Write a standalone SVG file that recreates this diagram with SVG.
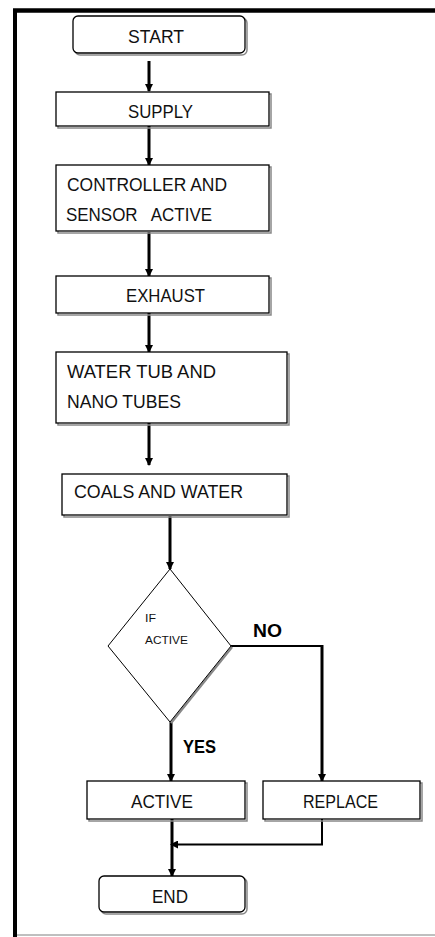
<svg xmlns="http://www.w3.org/2000/svg" width="435" height="937" viewBox="0 0 435 937">
<defs>
<marker id="ah" markerWidth="8" markerHeight="8" refX="7" refY="4" orient="auto" markerUnits="userSpaceOnUse">
<path d="M0,0 L8,4 L0,8 Z" fill="#000"/>
</marker>
</defs>
<style>
.box{fill:#fff;stroke:#000;stroke-width:1.3}
.sh{fill:none;stroke:#888;stroke-width:1.5}
.t{font-family:"Liberation Sans",Arial,sans-serif;font-size:17.5px;fill:#111}
.s{font-family:"Liberation Sans",Arial,sans-serif;font-size:11px;fill:#111}
.b{font-family:"Liberation Sans",Arial,sans-serif;font-size:17.5px;font-weight:bold;fill:#000}
.c{fill:none;stroke:#000;stroke-width:3}
.c2{fill:none;stroke:#000;stroke-width:2}
</style>
<rect width="435" height="937" fill="#fff"/>
<g id="frame">
<line x1="13" y1="10.5" x2="435" y2="10.5" stroke="#000" stroke-width="4.4"/>
<line x1="15" y1="9" x2="15" y2="937" stroke="#000" stroke-width="4"/>
<line x1="17" y1="935" x2="435" y2="935" stroke="#aaa" stroke-width="1.5"/>
</g>
<g id="connectors">
<line class="c" x1="149" y1="61" x2="149" y2="91" marker-end="url(#ah)"/>
<line class="c" x1="149" y1="126" x2="149" y2="165" marker-end="url(#ah)"/>
<line class="c" x1="149" y1="232" x2="149" y2="276" marker-end="url(#ah)"/>
<line class="c" x1="149" y1="313" x2="149" y2="352" marker-end="url(#ah)"/>
<line class="c" x1="149" y1="423" x2="149" y2="465" marker-end="url(#ah)"/>
<line class="c" x1="170" y1="516" x2="170" y2="569" marker-end="url(#ah)"/>
<polyline class="c2" points="231,646 322,646 322,647"/>
<line class="c" x1="322" y1="645" x2="322" y2="781" marker-end="url(#ah)"/>
<line class="c" x1="171" y1="722" x2="171" y2="781" marker-end="url(#ah)"/>
<line class="c" x1="172" y1="819" x2="172" y2="876" marker-end="url(#ah)"/>
<polyline class="c2" points="322,819 322,844.5 171,844.5" marker-end="url(#ah)"/>
</g>
<g id="start">
<rect x="75" y="18" width="172" height="37" rx="5" class="sh"/>
<rect x="73" y="16" width="172" height="37" rx="5" class="box"/>
<text class="t" x="128" y="42.5" textLength="56" lengthAdjust="spacingAndGlyphs">START</text>
</g>
<g id="supply">
<rect x="58" y="94" width="213" height="34" class="sh"/>
<rect x="56" y="92" width="213" height="34" class="box"/>
<text class="t" x="128" y="118" textLength="65" lengthAdjust="spacingAndGlyphs">SUPPLY</text>
</g>
<g id="controller">
<rect x="58" y="167" width="213" height="66" class="sh"/>
<rect x="56" y="165" width="213" height="66" class="box"/>
<text class="t" x="67" y="190.5" textLength="160" lengthAdjust="spacingAndGlyphs">CONTROLLER AND</text>
<text class="t" x="66" y="221" textLength="146" lengthAdjust="spacingAndGlyphs" xml:space="preserve">SENSOR   ACTIVE</text>
</g>
<g id="exhaust">
<rect x="58" y="278" width="213" height="37" class="sh"/>
<rect x="56" y="276" width="213" height="37" class="box"/>
<text class="t" x="126" y="301.5" textLength="79" lengthAdjust="spacingAndGlyphs">EXHAUST</text>
</g>
<g id="watertub">
<rect x="58" y="354" width="231" height="71" class="sh"/>
<rect x="56" y="352" width="231" height="71" class="box"/>
<text class="t" x="67" y="377.5" textLength="149" lengthAdjust="spacingAndGlyphs">WATER TUB AND</text>
<text class="t" x="67" y="408" textLength="114" lengthAdjust="spacingAndGlyphs">NANO TUBES</text>
</g>
<g id="coals">
<rect x="64" y="476" width="225" height="41" class="sh"/>
<rect x="62" y="474" width="225" height="41" class="box"/>
<text class="t" x="74" y="498" textLength="169" lengthAdjust="spacingAndGlyphs">COALS AND WATER</text>
</g>
<g id="decision">
<polyline points="232,647 171,723" fill="none" stroke="#888" stroke-width="2.5"/>
<polygon points="170,569 231,646 170,722 108,646" fill="#fff" stroke="#000" stroke-width="1"/>
<text class="s" x="145" y="622" textLength="11" lengthAdjust="spacingAndGlyphs">IF</text>
<text class="s" x="145" y="644" textLength="43" lengthAdjust="spacingAndGlyphs">ACTIVE</text>
</g>
<g id="labels">
<text class="b" x="253" y="636.5" textLength="29" lengthAdjust="spacingAndGlyphs">NO</text>
<text class="b" x="183" y="753" textLength="33" lengthAdjust="spacingAndGlyphs">YES</text>
</g>
<g id="active">
<rect x="89" y="783" width="158" height="38" class="sh"/>
<rect x="87" y="781" width="158" height="38" class="box"/>
<text class="t" x="131" y="808" textLength="62" lengthAdjust="spacingAndGlyphs">ACTIVE</text>
</g>
<g id="replace">
<rect x="265" y="783" width="157" height="38" class="sh"/>
<rect x="263" y="781" width="157" height="38" class="box"/>
<text class="t" x="303" y="808" textLength="75" lengthAdjust="spacingAndGlyphs">REPLACE</text>
</g>
<g id="end">
<rect x="101" y="878" width="146" height="36" rx="5" class="sh"/>
<rect x="99" y="876" width="146" height="36" rx="5" class="box"/>
<text class="t" x="152" y="902.5" textLength="36" lengthAdjust="spacingAndGlyphs">END</text>
</g>
</svg>
